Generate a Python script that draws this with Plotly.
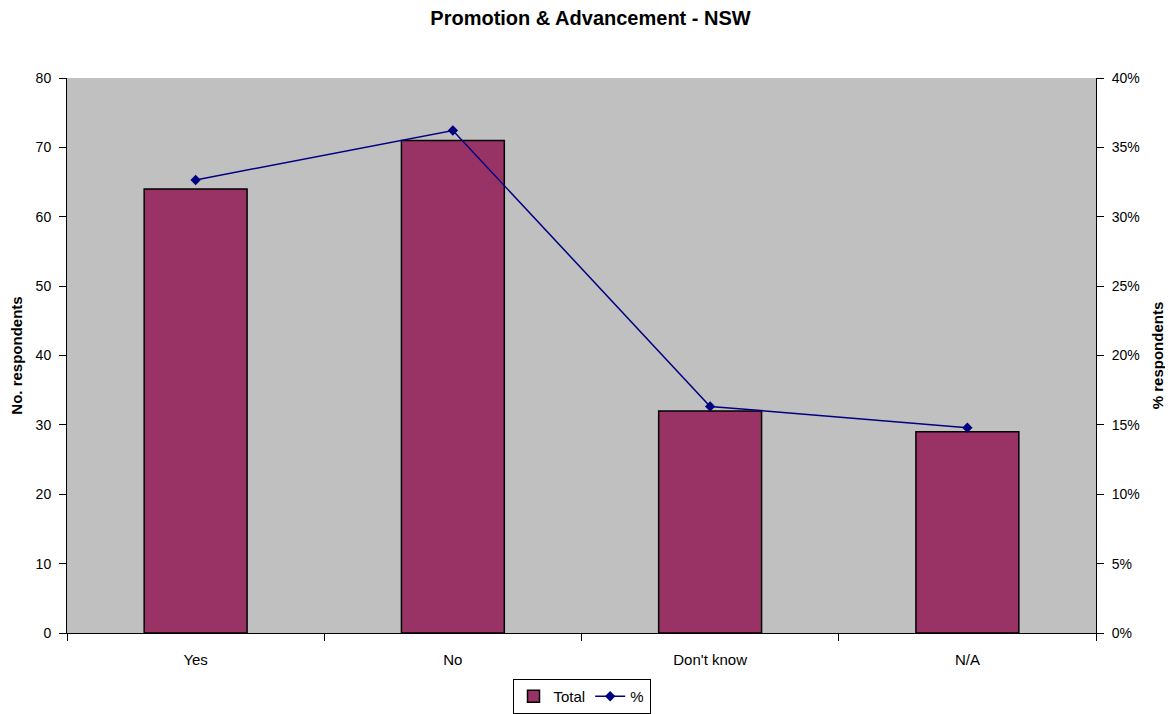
import plotly.graph_objects as go

categories = ["Yes", "No", "Don't know", "N/A"]
totals = [64, 71, 32, 29]
percents = [0.3265, 0.3622, 0.1633, 0.1480]

fig = go.Figure()
fig.add_trace(go.Bar(
    x=categories, y=totals, name="Total",
    marker=dict(color="#993366", line=dict(color="#000000", width=1.5)),
    width=0.4,
))
fig.add_trace(go.Scatter(
    x=categories, y=percents, name="%", yaxis="y2",
    mode="lines+markers",
    line=dict(color="#000080", width=1.5),
    marker=dict(symbol="diamond", size=8, color="#000080"),
))

fam = "Liberation Sans, Arial, sans-serif"
font = dict(family=fam, size=14, color="#000000")

# the page body has an 8px margin, so the figure is sized to fit the window
fig.update_layout(
    width=1165, height=706,
    margin=dict(l=59, r=77, t=70, b=81, autoexpand=False),
    paper_bgcolor="#FFFFFF",
    plot_bgcolor="#C0C0C0",
    font=font,
    title=dict(text="<b>Promotion & Advancement - NSW</b>", x=0.5, xanchor="center",
               y=0.986, yanchor="middle", font=dict(size=20, family=fam)),
    showlegend=True,
    legend=dict(orientation="h", x=0.5, xanchor="center", y=-0.083, yanchor="top",
                bordercolor="#000000", borderwidth=1, bgcolor="#FFFFFF",
                font=dict(size=15, family=fam), itemwidth=30,
                tracegroupgap=0),
    bargap=0.6,
    xaxis=dict(
        automargin=False,
        showline=True, linecolor="#000000", linewidth=1,
        ticks="outside", tickson="boundaries", ticklen=7, tickcolor="#000000",
        showgrid=False, mirror=False,
        tickfont=dict(size=15), ticklabelstandoff=13,
    ),
    yaxis=dict(
        automargin=False,
        range=[0, 80], dtick=10, showgrid=False,
        showline=True, linecolor="#000000", linewidth=1,
        ticks="outside", ticklen=7, tickcolor="#000000",
        ticklabelstandoff=5,
        title=dict(text="<b>No. respondents</b>", font=dict(size=15), standoff=15),
        zeroline=False,
    ),
    yaxis2=dict(
        automargin=False,
        range=[0, 0.4], dtick=0.05, tickformat=".0%", overlaying="y", side="right",
        showgrid=False, showline=True, linecolor="#000000", linewidth=1,
        ticks="outside", ticklen=7, tickcolor="#000000",
        ticklabelstandoff=5,
        title=dict(text="<b>% respondents</b>", font=dict(size=15), standoff=13),
        zeroline=False,
    ),
)

fig.write_html("out.html")
